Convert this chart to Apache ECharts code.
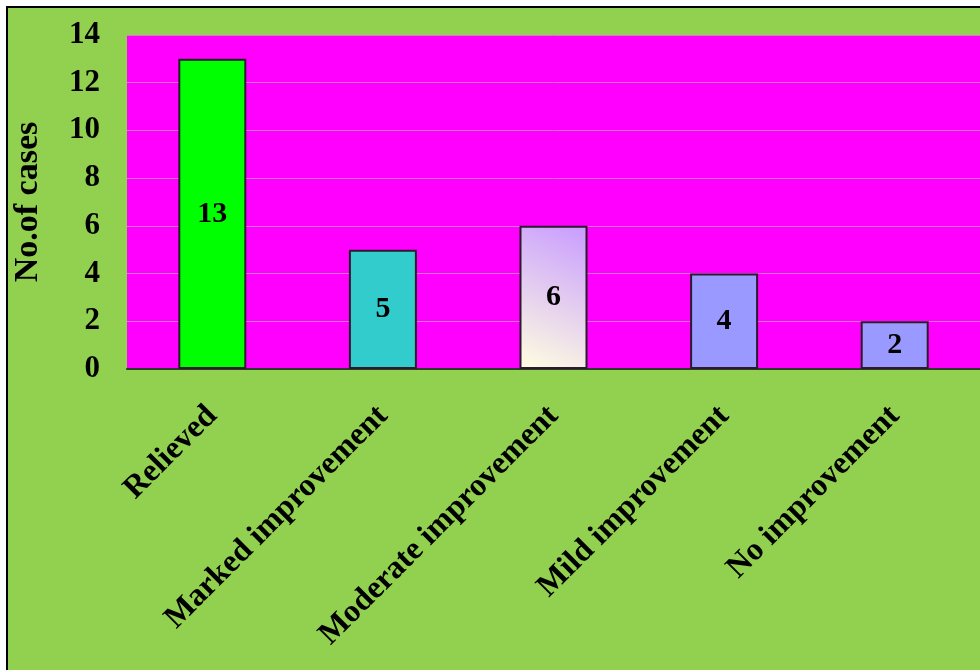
<!DOCTYPE html>
<html>
<head>
<meta charset="utf-8">
<script src="https://cdn.jsdelivr.net/npm/echarts@6/dist/echarts.min.js"></script>
<style>
html,body{margin:0;padding:0;background:#fff;}
#c{width:980px;height:670px;}
</style>
</head>
<body>
<div id="c"></div>
<script>
var categories = ['Relieved', 'Marked improvement', 'Moderate improvement', 'Mild improvement', 'No improvement'];
var cases = [13, 5, 6, 4, 2];
var yTicks = [0, 2, 4, 6, 8, 10, 12, 14];
var barColors = ['#00FF00', '#33CCCC', 'gradient', '#9999FF', '#9999FF'];

var font = '"Liberation Serif","Times New Roman",serif';
var chart = echarts.init(document.getElementById('c'), null, {renderer: 'canvas'});

function colorFor(c) {
  if (c === 'gradient') {
    return new echarts.graphic.LinearGradient(0, 1, 1, 0, [
      {offset: 0, color: '#FFFFE0'},
      {offset: 1, color: '#C89BFF'}
    ]);
  }
  return c;
}

var option = {
  backgroundColor: '#ffffff',
  animation: false,
  graphic: [{
    type: 'rect',
    z: -10,
    silent: true,
    shape: {x: 7, y: 7, width: 1000, height: 700},
    style: {fill: '#92D050', stroke: '#000', lineWidth: 2}
  }],
  grid: {
    left: 127, top: 35, width: 858, height: 334,
    show: true, backgroundColor: '#FF00FF', borderWidth: 0,
    containLabel: false
  },
  xAxis: {
    type: 'category',
    data: categories,
    axisLine: {show: true, lineStyle: {color: '#2b3a2b', width: 2}},
    axisTick: {show: false},
    axisLabel: {
      rotate: 45, margin: 42, interval: 0,
      color: '#000', fontFamily: font, fontWeight: 'bold', fontSize: 32
    }
  },
  yAxis: {
    type: 'value',
    min: yTicks[0], max: yTicks[yTicks.length - 1], interval: 2,
    name: 'No.of cases',
    nameLocation: 'middle', nameRotate: 90, nameGap: 82,
    nameTextStyle: {color: '#000', fontFamily: font, fontWeight: 'bold', fontSize: 34},
    axisLine: {show: false},
    axisTick: {show: false},
    axisLabel: {margin: 27, color: '#000', fontFamily: font, fontWeight: 'bold', fontSize: 31},
    splitLine: {show: true, lineStyle: {color: '#D873D8', width: 1}}
  },
  series: [{
    type: 'bar',
    barWidth: 68,
    data: cases.map(function (v, i) {
      return {value: v, itemStyle: {color: colorFor(barColors[i])}};
    }),
    itemStyle: {borderColor: '#2d1a2d', borderWidth: 2},
    label: {
      show: true, position: 'inside',
      color: '#000', fontFamily: font, fontWeight: 'bold', fontSize: 30
    }
  }]
};
chart.setOption(option);
</script>
</body>
</html>
